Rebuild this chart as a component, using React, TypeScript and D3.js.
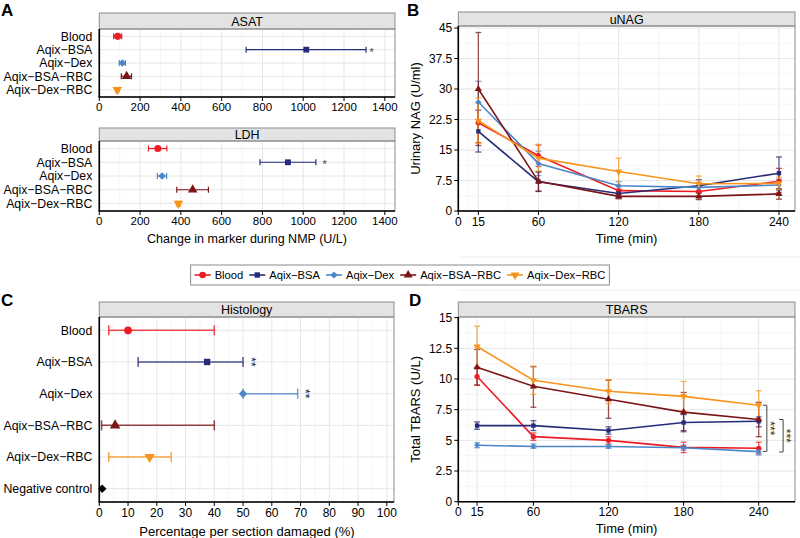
import React, { useEffect, useRef } from "react";
import * as d3 from "d3";

const FONT = "'Liberation Sans', Arial, Helvetica, sans-serif";

const groups = ["Blood", "Aqix-BSA", "Aqix-Dex", "Aqix-BSA-RBC", "Aqix-Dex-RBC"];
const groupColors = ["#ED1C24", "#262B78", "#4A86C8", "#7B1518", "#F7941D"];
const groupShapes = ["circle", "square", "diamond", "triangle", "triangleDown"];

// A: change in marker during NMP (U/L)
const asatMean = [90, 1015, 113, 134, 88];
const asatLow = [70, 720, 98, 108, 80];
const asatHigh = [110, 1308, 128, 158, 96];
const asatStars = ["", "*", "", "", ""];
const asatStarX = [0, 1335, 0, 0, 0];
const ldhMean = [287, 925, 308, 458, 388];
const ldhLow = [241, 788, 285, 380, 378];
const ldhHigh = [331, 1062, 330, 535, 398];
const ldhStars = ["", "*", "", "", ""];
const ldhStarX = [0, 1105, 0, 0, 0];
const markerTicks = [0, 200, 400, 600, 800, 1000, 1200, 1400];

// B: uNAG (U/ml) per group over time
const times = [15, 60, 120, 180, 240];
const timeTicks = [0, 15, 60, 120, 180, 240];
const nagTicks = [0, 7.5, 15, 22.5, 30, 37.5, 45];
const nagMean = [
  [21.7, 13.6, 5.0, 4.8, 7.3],
  [19.6, 7.2, 4.3, 6.2, 9.3],
  [26.8, 11.7, 6.2, 5.8, 6.4],
  [30.0, 7.3, 3.6, 3.6, 4.2],
  [22.2, 13.0, 9.7, 6.7, 6.8],
];
const nagLow = [
  [16.8, 11.0, 4.0, 3.6, 4.5],
  [14.5, 4.8, 3.3, 4.7, 5.3],
  [21.7, 8.7, 5.2, 4.6, 5.0],
  [16.1, 4.9, 3.0, 2.8, 2.9],
  [16.6, 9.8, 6.4, 4.8, 5.3],
];
const nagHigh = [
  [26.6, 16.2, 6.0, 6.0, 10.5],
  [24.8, 9.6, 5.3, 7.7, 13.3],
  [31.9, 14.7, 7.2, 7.0, 7.8],
  [43.9, 9.7, 4.2, 4.4, 5.5],
  [27.8, 16.4, 13.0, 8.6, 8.3],
];

// C: histology, % per section damaged
const histoGroups = [...groups, "Negative control"];
const histoColors = [...groupColors, "#000000"];
const histoShapes = [...groupShapes, "diamond"];
const histoMean = [10, 37.5, 50, 5.5, 17.5, 1];
const histoLow = [3.3, 13.5, 50, 0.8, 3.3, 1];
const histoHigh = [40, 50, 69, 40, 25, 1];
const histoStars = ["", "**", "**", "", "", ""];
const histoStarX = [0, 53.5, 72.5, 0, 0, 0];
const histoTicks = [0, 10, 20, 30, 40, 50, 60, 70, 80, 90, 100];

// D: TBARS (U/L) per group over time
const tbarsTicks = [0, 2.5, 5, 7.5, 10, 12.5, 15];
const tbarsMean = [
  [10.2, 5.3, 5.0, 4.43, 4.35],
  [6.2, 6.2, 5.8, 6.45, 6.55],
  [4.6, 4.5, 4.5, 4.4, 4.08],
  [10.95, 9.4, 8.35, 7.3, 6.7],
  [12.65, 9.9, 9.0, 8.58, 7.86],
];
const tbarsLow = [
  [9.5, 5.0, 4.7, 4.0, 3.9],
  [5.9, 5.8, 5.5, 5.8, 6.1],
  [4.4, 4.35, 4.35, 4.2, 3.8],
  [9.5, 7.7, 6.8, 5.7, 5.3],
  [11.0, 8.75, 8.0, 7.4, 6.7],
];
const tbarsHigh = [
  [10.9, 5.6, 5.3, 4.85, 4.85],
  [6.5, 6.6, 6.1, 7.1, 6.9],
  [4.8, 4.7, 4.65, 4.6, 4.3],
  [12.4, 11.0, 9.9, 8.9, 8.1],
  [14.3, 11.05, 9.95, 9.8, 9.04],
];
const bracketTop = [7.86, 6.7];
const bracketBottom = [4.1, 4.05];
const bracketX = [246.5, 259.5];
const bracketLabel = ["***", "***"];

const shapePath = (shape: string, size: number) => {
  if (shape === "circle") return d3.symbol(d3.symbolCircle, size)();
  if (shape === "square") return d3.symbol(d3.symbolSquare, size * 0.85)();
  if (shape === "diamond") return d3.symbol(d3.symbolSquare, size * 0.75)();
  return d3.symbol(d3.symbolTriangle, size)();
};
const shapeRot = (shape: string) => (shape === "diamond" ? 45 : shape === "triangleDown" ? 180 : 0);
const dash = (s: string) => s.replace(/-/g, "\u2212");

function frame(svg: any, x0: number, x1: number, y0: number, y1: number, stripTop: number, title: string, fs: number) {
  svg.append("rect").attr("x", x0).attr("y", y0).attr("width", x1 - x0).attr("height", y1 - y0).attr("fill", "#fff");
  svg.append("rect").attr("x", x0).attr("y", stripTop).attr("width", x1 - x0).attr("height", y0 - stripTop)
    .attr("fill", "#E3E3E3").attr("stroke", "#8C8C8C").attr("stroke-width", 1);
  svg.append("text").attr("x", (x0 + x1) / 2).attr("y", (stripTop + y0) / 2).attr("dy", "0.36em")
    .attr("text-anchor", "middle").attr("font-size", fs).text(title);
}

function border(svg: any, x0: number, x1: number, y0: number, y1: number) {
  svg.append("rect").attr("x", x0).attr("y", y0).attr("width", x1 - x0).attr("height", y1 - y0)
    .attr("fill", "none").attr("stroke", "#8C8C8C").attr("stroke-width", 1);
  svg.append("line").attr("x1", x0).attr("x2", x0).attr("y1", y0).attr("y2", y1).attr("stroke", "#000").attr("stroke-width", 1.6);
  svg.append("line").attr("x1", x0 - 0.8).attr("x2", x1).attr("y1", y1).attr("y2", y1).attr("stroke", "#000").attr("stroke-width", 1.6);
}

function dotPanel(svg: any, o: any) {
  const x = d3.scaleLinear().domain(o.domain).range([o.left, o.right]);
  const y = d3.scalePoint<string>().domain(o.cats).range([o.top, o.bottom]).padding(o.pad);
  frame(svg, o.left, o.right, o.top, o.bottom, o.stripTop, o.title, o.stripFs);
  const grid = svg.append("g");
  o.minor.forEach((v: number) => grid.append("line").attr("x1", x(v)).attr("x2", x(v)).attr("y1", o.top).attr("y2", o.bottom)
    .attr("stroke", "#F2F2F2").attr("stroke-width", 0.7));
  o.ticks.forEach((v: number) => grid.append("line").attr("x1", x(v)).attr("x2", x(v)).attr("y1", o.top).attr("y2", o.bottom)
    .attr("stroke", "#E6E6E6").attr("stroke-width", 1));
  o.cats.forEach((c: string) => grid.append("line").attr("x1", o.left).attr("x2", o.right).attr("y1", y(c)).attr("y2", y(c))
    .attr("stroke", "#E6E6E6").attr("stroke-width", 1));

  o.cats.forEach((c: string, i: number) => {
    const yy = y(c) as number;
    const g = svg.append("g");
    if (o.high[i] > o.low[i]) {
      g.append("line").attr("x1", x(o.low[i])).attr("x2", x(o.high[i])).attr("y1", yy).attr("y2", yy)
        .attr("stroke", o.colors[i]).attr("stroke-width", o.sw).attr("opacity", o.eop);
      [o.low[i], o.high[i]].forEach((v: number) => g.append("line").attr("x1", x(v)).attr("x2", x(v))
        .attr("y1", yy - o.capH).attr("y2", yy + o.capH).attr("stroke", o.colors[i]).attr("stroke-width", o.sw).attr("opacity", o.eop));
    }
    g.append("path").attr("d", shapePath(o.shapes[i], o.size))
      .attr("transform", `translate(${x(o.mean[i])},${yy}) rotate(${shapeRot(o.shapes[i])})`).attr("fill", o.colors[i]);
    if (o.stars[i]) {
      if (o.rotStars) {
        g.append("text").attr("transform", `translate(${x(o.starX[i])},${yy}) rotate(90)`).attr("dy", "0.55em")
          .attr("text-anchor", "middle").attr("font-size", o.starFs).attr("fill", "#222").text(o.stars[i]);
      } else {
        g.append("text").attr("x", x(o.starX[i])).attr("y", yy).attr("dy", "0.55em")
          .attr("text-anchor", "middle").attr("font-size", o.starFs).attr("fill", "#444").text(o.stars[i]);
      }
    }
    svg.append("text").attr("x", o.left - 7).attr("y", yy).attr("dy", "0.36em").attr("text-anchor", "end")
      .attr("font-size", o.catFs).text(dash(c));
  });
  border(svg, o.left, o.right, o.top, o.bottom);
  o.ticks.forEach((v: number) => {
    svg.append("line").attr("x1", x(v)).attr("x2", x(v)).attr("y1", o.bottom).attr("y2", o.bottom + 4).attr("stroke", "#000").attr("stroke-width", 1);
    svg.append("text").attr("x", x(v)).attr("y", o.bottom + 5).attr("dy", "0.8em").attr("text-anchor", "middle")
      .attr("font-size", o.tickFs).text(v);
  });
}

function timePanel(svg: any, o: any) {
  const x = d3.scaleLinear().domain(o.xDomain).range([o.left, o.right]);
  const y = d3.scaleLinear().domain(o.yDomain).range([o.bottom, o.top]);
  frame(svg, o.left, o.right, o.top, o.bottom, o.stripTop, o.title, o.stripFs);
  const grid = svg.append("g");
  o.yMinor.forEach((v: number) => grid.append("line").attr("x1", o.left).attr("x2", o.right).attr("y1", y(v)).attr("y2", y(v))
    .attr("stroke", "#F2F2F2").attr("stroke-width", 0.7));
  o.xMinor.forEach((v: number) => grid.append("line").attr("x1", x(v)).attr("x2", x(v)).attr("y1", o.top).attr("y2", o.bottom)
    .attr("stroke", "#F2F2F2").attr("stroke-width", 0.7));
  o.yTicks.forEach((v: number) => grid.append("line").attr("x1", o.left).attr("x2", o.right).attr("y1", y(v)).attr("y2", y(v))
    .attr("stroke", "#E6E6E6").attr("stroke-width", 1));
  o.xTicks.forEach((v: number) => grid.append("line").attr("x1", x(v)).attr("x2", x(v)).attr("y1", o.top).attr("y2", o.bottom)
    .attr("stroke", "#E6E6E6").attr("stroke-width", 1));

  const line = d3.line<number>().x((_, j) => x(times[j])).y((d) => y(d));
  groups.forEach((_, i) => {
    const g = svg.append("g");
    times.forEach((t, j) => {
      const lo = y(o.low[i][j]), hi = y(o.high[i][j]);
      g.append("line").attr("x1", x(t)).attr("x2", x(t)).attr("y1", lo).attr("y2", hi)
        .attr("stroke", groupColors[i]).attr("stroke-width", 1.3).attr("opacity", 0.72);
      [lo, hi].forEach((yy) => g.append("line").attr("x1", x(t) - 3).attr("x2", x(t) + 3).attr("y1", yy).attr("y2", yy)
        .attr("stroke", groupColors[i]).attr("stroke-width", 1.3).attr("opacity", 0.72));
    });
  });
  groups.forEach((_, i) => {
    svg.append("path").attr("d", line(o.mean[i])).attr("fill", "none").attr("stroke", groupColors[i]).attr("stroke-width", 1.6);
    times.forEach((t, j) => svg.append("path").attr("d", shapePath(groupShapes[i], 22))
      .attr("transform", `translate(${x(t)},${y(o.mean[i][j])}) rotate(${shapeRot(groupShapes[i])})`).attr("fill", groupColors[i]));
  });
  border(svg, o.left, o.right, o.top, o.bottom);
  o.yTicks.forEach((v: number) => {
    svg.append("line").attr("x1", o.left - 4).attr("x2", o.left).attr("y1", y(v)).attr("y2", y(v)).attr("stroke", "#000").attr("stroke-width", 1);
    svg.append("text").attr("x", o.left - 6).attr("y", y(v)).attr("dy", "0.36em").attr("text-anchor", "end")
      .attr("font-size", o.tickFs).text(v);
  });
  o.xTicks.forEach((v: number) => {
    svg.append("line").attr("x1", x(v)).attr("x2", x(v)).attr("y1", o.bottom).attr("y2", o.bottom + 4).attr("stroke", "#000").attr("stroke-width", 1);
    svg.append("text").attr("x", x(v)).attr("y", o.bottom + 5).attr("dy", "0.8em").attr("text-anchor", "middle")
      .attr("font-size", o.tickFs).text(v);
  });
  svg.append("text").attr("x", (o.left + o.right) / 2).attr("y", o.bottom + 27).attr("dy", "0.36em").attr("text-anchor", "middle")
    .attr("font-size", 13).text("Time (min)");
  svg.append("text").attr("transform", `translate(${o.left - 43},${(o.top + o.bottom) / 2}) rotate(-90)`)
    .attr("text-anchor", "middle").attr("dy", "0.36em").attr("font-size", 13).text(o.yTitle);
  return { x, y };
}

export default function App() {
  const ref = useRef<SVGSVGElement>(null);

  useEffect(() => {
    const svg = d3.select(ref.current).attr("font-family", FONT);
    svg.selectAll("*").remove();
    svg.append("rect").attr("width", 800).attr("height", 538).attr("fill", "#fff");

    // faint separators
    [257, 290].forEach((yy) => svg.append("line").attr("x1", 458).attr("x2", 800).attr("y1", yy).attr("y2", yy)
      .attr("stroke", "#EDEDED").attr("stroke-width", 1));

    const panelLabel = (t: string, x: number, y: number) =>
      svg.append("text").attr("x", x).attr("y", y).attr("font-size", 17).attr("font-weight", "bold").text(t);

    // ---- A
    panelLabel("A", 1, 16);
    const aCommon = {
      domain: [0, 1450], left: 99.3, right: 395, cats: groups, pad: 0.55, colors: groupColors, shapes: groupShapes,
      ticks: markerTicks, minor: [100, 300, 500, 700, 900, 1100, 1300], size: 40, sw: 1.2, capH: 3, eop: 1,
      catFs: 12.3, tickFs: 11.5, stripFs: 12.5, starFs: 11, rotStars: false,
    };
    dotPanel(svg, { ...aCommon, top: 29, bottom: 97, stripTop: 13, title: "ASAT", mean: asatMean, low: asatLow, high: asatHigh, stars: asatStars, starX: asatStarX });
    dotPanel(svg, { ...aCommon, top: 141, bottom: 211, stripTop: 128, title: "LDH", mean: ldhMean, low: ldhLow, high: ldhHigh, stars: ldhStars, starX: ldhStarX });
    svg.append("text").attr("x", 247).attr("y", 238).attr("dy", "0.36em").attr("text-anchor", "middle")
      .attr("font-size", 12.5).text("Change in marker during NMP (U/L)");

    // ---- B
    panelLabel("B", 407, 16);
    timePanel(svg, {
      xDomain: [0, 252], yDomain: [0, 45.5], left: 458.3, right: 795, top: 26, bottom: 211, stripTop: 12, title: "uNAG",
      stripFs: 12.5, tickFs: 12, xTicks: timeTicks, xMinor: [7.5, 37.5, 90, 150, 210], yTicks: nagTicks,
      yMinor: [3.75, 11.25, 18.75, 26.25, 33.75, 41.25], mean: nagMean, low: nagLow, high: nagHigh, yTitle: "Urinary NAG (U/ml)",
    });

    // ---- legend
    const leg = svg.append("g");
    let cx = 0;
    groups.forEach((gname, i) => {
      const item = leg.append("g").attr("transform", `translate(${cx},0)`);
      item.append("line").attr("x1", 0).attr("x2", 16).attr("stroke", groupColors[i]).attr("stroke-width", 1.6);
      item.append("path").attr("d", shapePath(groupShapes[i], 34))
        .attr("transform", `translate(8,0) rotate(${shapeRot(groupShapes[i])})`).attr("fill", groupColors[i]);
      const t = item.append("text").attr("x", 20).attr("dy", "0.36em").attr("font-size", 11.2).text(dash(gname));
      const w = (t.node() as SVGTextElement).getComputedTextLength();
      cx += 20 + w + 6;
    });
    const legW = cx - 6 + 8;
    const legX = 400 - legW / 2;
    leg.attr("transform", `translate(${legX + 4},275)`);
    svg.insert("rect", "g").attr("x", legX).attr("y", 265).attr("width", legW).attr("height", 20)
      .attr("fill", "#fff").attr("stroke", "#8C8C8C").attr("stroke-width", 1);

    // ---- C
    panelLabel("C", 1, 306);
    dotPanel(svg, {
      domain: [0, 102.5], left: 99.3, right: 394, top: 317, bottom: 502, stripTop: 302, title: "Histology",
      cats: histoGroups, pad: 0.42, colors: histoColors, shapes: histoShapes, ticks: histoTicks,
      minor: [5, 15, 25, 35, 45, 55, 65, 75, 85, 95], size: 48, sw: 1.5, capH: 5, eop: 0.8,
      mean: histoMean, low: histoLow, high: histoHigh, stars: histoStars, starX: histoStarX,
      catFs: 12.3, tickFs: 12, stripFs: 12.5, starFs: 12, rotStars: true,
    });
    svg.append("text").attr("x", 247).attr("y", 531).attr("dy", "0.36em").attr("text-anchor", "middle")
      .attr("font-size", 13).text("Percentage per section damaged (%)");

    // ---- D
    panelLabel("D", 409, 306);
    const d = timePanel(svg, {
      xDomain: [0, 269], yDomain: [0, 15.05], left: 458.3, right: 795, top: 317, bottom: 501.7, stripTop: 302, title: "TBARS",
      stripFs: 12.5, tickFs: 12, xTicks: timeTicks, xMinor: [7.5, 37.5, 90, 150, 210], yTicks: tbarsTicks,
      yMinor: [1.25, 3.75, 6.25, 8.75, 11.25, 13.75], mean: tbarsMean, low: tbarsLow, high: tbarsHigh, yTitle: "Total TBARS (U/L)",
    });
    bracketX.forEach((bx, k) => {
      const xx = d.x(bx), y1 = d.y(bracketTop[k]), y2 = d.y(bracketBottom[k]);
      svg.append("path").attr("d", `M${xx - 4},${y1}H${xx}V${y2}H${xx - 4}`).attr("fill", "none").attr("stroke", "#444").attr("stroke-width", 1);
      svg.append("text").attr("transform", `translate(${xx + 6},${(y1 + y2) / 2}) rotate(90)`).attr("dy", "0.55em")
        .attr("text-anchor", "middle").attr("font-size", 12).attr("fill", "#333").text(bracketLabel[k]);
    });
  }, []);

  return <svg ref={ref} width={800} height={538} style={{ position: "absolute", left: 0, top: 0 }} />;
}
